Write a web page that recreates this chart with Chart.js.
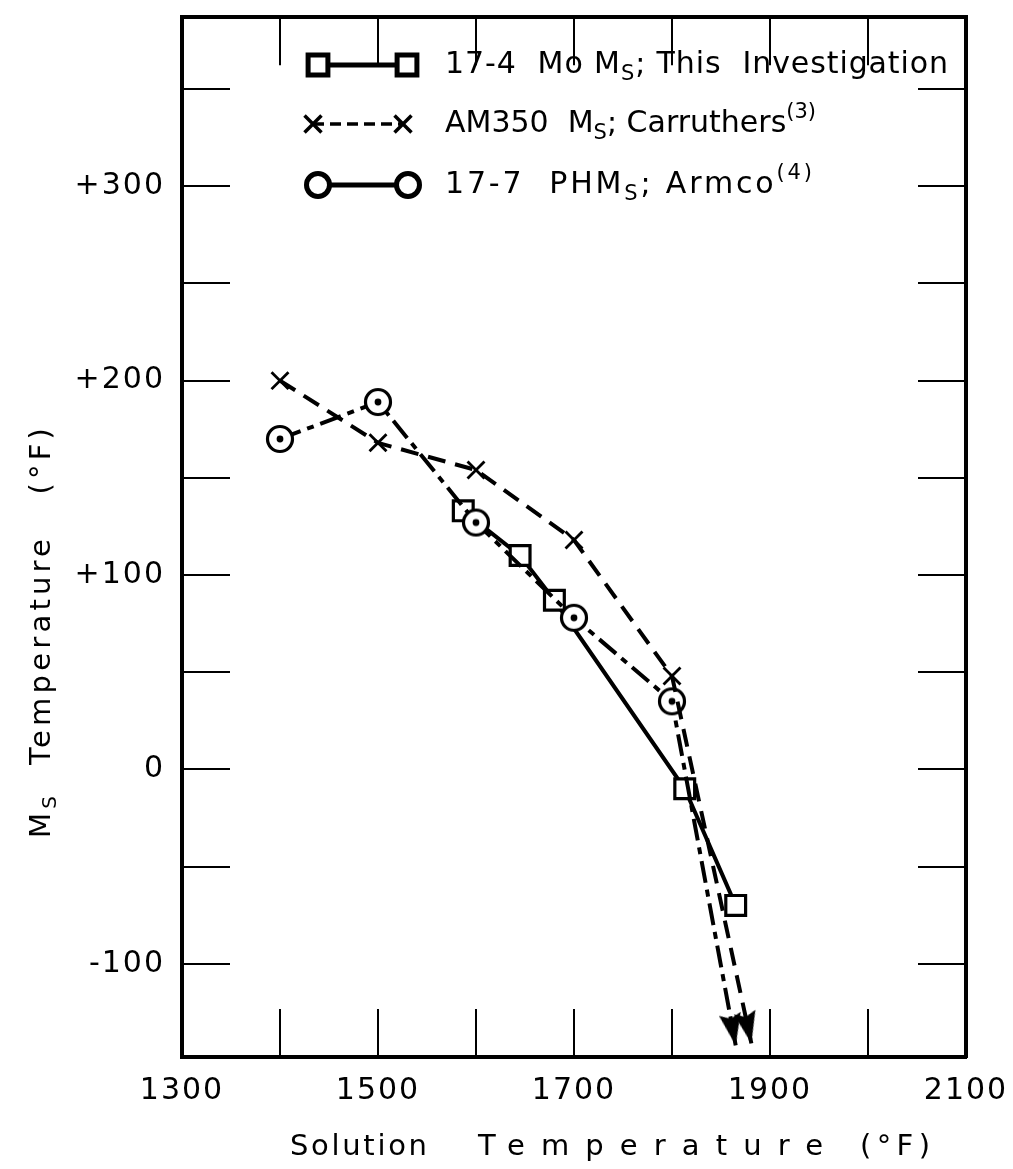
<!DOCTYPE html>
<html>
<head>
<meta charset="utf-8">
<script src="https://cdn.jsdelivr.net/npm/chart.js@4.4.1/dist/chart.umd.min.js"></script>
<style>
  html, body { margin: 0; padding: 0; background: #fff; }
  #wrap { width: 1013px; height: 1169px; position: relative; }
</style>
</head>
<body>
<div id="wrap"><canvas id="ms-chart"></canvas></div>
<script>
// Ms temperature vs solution temperature, both in deg F
const mo174_x = [1587, 1645, 1680, 1813, 1865];
const mo174_y = [133, 110, 87, -10, -70];
// last point of the two reference curves is the arrow tip
const am350_x = [1400, 1500, 1600, 1700, 1800, 1881];
const am350_y = [200, 168, 154, 118, 48, -141];
const ph177_x = [1400, 1500, 1600, 1700, 1800, 1865];
const ph177_y = [170, 189, 127, 78, 35, -142];

const x_ticks = [1300, 1400, 1500, 1600, 1700, 1800, 1900, 2000, 2100];
const x_labels = [1300, 1500, 1700, 1900, 2100];
const y_ticks = [-100, -50, 0, 50, 100, 150, 200, 250, 300, 350];
const y_labels = [-100, 0, 100, 200, 300];

// text pieces: 0 normal, 1 subscript, 2 superscript
const legend_labels = [
    [['17-4  Mo M', 0], ['S', 1], ['; This  Investigation', 0]],
    [['AM350  M', 0], ['S', 1], ['; Carruthers', 0], ['(3)', 2]],
    [['17-7  PHM', 0], ['S', 1], ['; Armco', 0], ['(4)', 2]]
];
const x_title = ['Solution', 'Temperature', '(°F)'];
const y_title = [['M', 0], ['S', 1], ['  Temperature', 0], ['   (°F)', 0]];

const FONT = '"DejaVu Sans", sans-serif';

function toPoints(xs, ys) {
    return xs.map((v, i) => ({ x: v, y: ys[i] }));
}

// circle marker with a dot in the middle
const ringImg = document.createElement('canvas');
ringImg.width = 32; ringImg.height = 32;
(function () {
    const c = ringImg.getContext('2d');
    c.beginPath();
    c.arc(16, 16, 12.5, 0, Math.PI * 2);
    c.fillStyle = '#fff';
    c.fill();
    c.lineWidth = 3.2;
    c.strokeStyle = '#000';
    c.stroke();
    c.beginPath();
    c.arc(16, 16, 3.4, 0, Math.PI * 2);
    c.fillStyle = '#000';
    c.fill();
})();

// arrow head, tip at the centre of the canvas, pointing up
const arrowImg = document.createElement('canvas');
arrowImg.width = 70; arrowImg.height = 70;
(function () {
    const c = arrowImg.getContext('2d');
    c.beginPath();
    c.moveTo(35, 35);
    c.lineTo(24, 67);
    c.lineTo(35, 62);
    c.lineTo(46, 67);
    c.closePath();
    c.fillStyle = '#000';
    c.fill();
})();

function arrowRotation(ctx) {
    const ds = ctx.dataset, i = ctx.dataIndex;
    if (i !== ds.data.length - 1) return 0;
    const sx = ctx.chart.scales.x, sy = ctx.chart.scales.y;
    const a = ds.data[i - 1], b = ds.data[i];
    const dx = sx.getPixelForValue(b.x) - sx.getPixelForValue(a.x);
    const dy = sy.getPixelForValue(b.y) - sy.getPixelForValue(a.y);
    return Math.atan2(dy, dx) * 180 / Math.PI + 90;
}

function fontFor(kind, size) {
    return (kind ? Math.round(size * 0.7) : size) + 'px ' + FONT;
}

// draws text pieces starting at x, stretched with letter spacing to the given width
function drawParts(ctx, parts, x, y, width, size) {
    ctx.letterSpacing = '0px';
    let natural = 0, chars = 0;
    parts.forEach(([t, k]) => {
        ctx.font = fontFor(k, size);
        natural += ctx.measureText(t).width;
        chars += t.length;
    });
    const sp = width ? Math.max(0, (width - natural) / (chars - 1)) : 0;
    ctx.letterSpacing = sp.toFixed(2) + 'px';
    ctx.textAlign = 'left';
    ctx.textBaseline = 'middle';
    ctx.fillStyle = '#000';
    let cx = x;
    parts.forEach(([t, k]) => {
        ctx.font = fontFor(k, size);
        const dy = k === 1 ? size * 0.32 : (k === 2 ? -size * 0.38 : 0);
        ctx.fillText(t, cx, y + dy);
        cx += ctx.measureText(t).width;
    });
    ctx.letterSpacing = '0px';
}

const legendMarkers = [
    { style: 'rect', radius: 14, x1: 318, x2: 407, y: 65, dash: [], lw: 5, textEnd: 948 },
    { style: 'crossRot', radius: 12, x1: 313, x2: 403, y: 124, dash: [11, 6], lw: 3.5, textEnd: 785 },
    { style: 'circle', radius: 11.5, x1: 318, x2: 408, y: 185, dash: [], lw: 5, textEnd: 812 }
];

const textPlugin = {
    id: 'textPlugin',
    beforeDraw(chart) {
        chart.ctx.letterSpacing = '2px';
    },
    afterDraw(chart) {
        const ctx = chart.ctx;
        ctx.save();

        // legend
        legendMarkers.forEach((m, i) => {
            ctx.beginPath();
            ctx.setLineDash(m.dash);
            ctx.lineWidth = m.lw;
            ctx.strokeStyle = '#000';
            ctx.moveTo(m.x1, m.y);
            ctx.lineTo(m.x2, m.y);
            ctx.stroke();
            ctx.setLineDash([]);
            ctx.fillStyle = '#fff';
            ctx.strokeStyle = '#000';
            [m.x1, m.x2].forEach(px => {
                Chart.helpers.drawPoint(ctx, {
                    pointStyle: m.style, radius: m.radius, borderWidth: 3, rotation: 0
                }, px, m.y);
            });
            drawParts(ctx, legend_labels[i], 445, m.y, m.textEnd - 445, 30);
        });

        // x axis title
        drawParts(ctx, [[x_title[0], 0]], 290, 1147, 137, 29);
        drawParts(ctx, [[x_title[1], 0]], 478, 1147, 345, 29);
        drawParts(ctx, [[x_title[2], 0]], 860, 1147, 70, 29);

        // y axis title, read from bottom to top
        ctx.save();
        ctx.translate(42, 838);
        ctx.rotate(-Math.PI / 2);
        drawParts(ctx, y_title, 0, 0, 410, 29);
        ctx.restore();

        ctx.restore();
    }
};

const tickGrid = {
    drawOnChartArea: false,
    drawTicks: true,
    tickLength: -48,
    lineWidth: 2,
    color: '#000'
};
const frame = { display: true, width: 4, color: '#000' };

function noPad(s) {
    s.paddingTop = 0; s.paddingBottom = 0; s.paddingLeft = 0; s.paddingRight = 0;
}

new Chart(document.getElementById('ms-chart'), {
    type: 'line',
    data: {
        datasets: [
            {
                label: 'AM350 Ms; Carruthers',
                data: toPoints(am350_x, am350_y),
                borderColor: '#000',
                borderWidth: 4,
                borderDash: [18, 10],
                pointStyle: am350_x.map((v, i) => i === am350_x.length - 1 ? arrowImg : 'crossRot'),
                pointRadius: 12,
                pointBorderWidth: 2.8,
                pointBorderColor: '#000',
                pointBackgroundColor: '#000',
                pointRotation: arrowRotation,
                tension: 0,
                clip: false
            },
            {
                label: '17-7 PHMs; Armco',
                data: toPoints(ph177_x, ph177_y),
                borderColor: '#000',
                borderWidth: 4,
                borderDash: [22, 7, 7, 7],
                pointStyle: ph177_x.map((v, i) => i === ph177_x.length - 1 ? arrowImg : ringImg),
                pointRadius: 13,
                pointRotation: arrowRotation,
                tension: 0,
                clip: false
            },
            {
                label: '17-4 Mo Ms; This Investigation',
                data: toPoints(mo174_x, mo174_y),
                borderColor: '#000',
                borderWidth: 4,
                pointStyle: 'rect',
                pointRadius: 14,
                pointBorderWidth: 3.2,
                pointBorderColor: '#000',
                pointBackgroundColor: '#fff',
                tension: 0,
                clip: false
            }
        ]
    },
    options: {
        responsive: true,
        maintainAspectRatio: false,
        devicePixelRatio: 1,
        animation: false,
        events: [],
        layout: { padding: 0 },
        plugins: {
            legend: { display: false },
            tooltip: { enabled: false }
        },
        scales: {
            x: {
                type: 'linear',
                position: 'bottom',
                min: 1300,
                max: 2100,
                afterBuildTicks: s => { s.ticks = x_ticks.map(v => ({ value: v })); },
                afterFit: s => { s.height = 112; noPad(s); },
                grid: tickGrid,
                border: frame,
                ticks: {
                    padding: 64,
                    color: '#000',
                    maxRotation: 0,
                    autoSkip: false,
                    font: { family: FONT, size: 30 },
                    callback: v => x_labels.includes(v) ? String(v) : ''
                }
            },
            x2: {
                type: 'linear',
                position: 'top',
                min: 1300,
                max: 2100,
                afterBuildTicks: s => { s.ticks = x_ticks.map(v => ({ value: v })); },
                afterFit: s => { s.height = 10; noPad(s); },
                grid: tickGrid,
                border: frame,
                ticks: { display: false }
            },
            y: {
                type: 'linear',
                position: 'left',
                min: -148,
                max: 387,
                afterBuildTicks: s => { s.ticks = y_ticks.map(v => ({ value: v })); },
                afterFit: s => { s.width = 182; noPad(s); },
                grid: tickGrid,
                border: frame,
                ticks: {
                    padding: 65,
                    color: '#000',
                    autoSkip: false,
                    font: { family: FONT, size: 30 },
                    callback: v => y_labels.includes(v) ? (v > 0 ? '+' + v : String(v)) : ''
                }
            },
            y2: {
                type: 'linear',
                position: 'right',
                min: -148,
                max: 387,
                afterBuildTicks: s => { s.ticks = y_ticks.map(v => ({ value: v })); },
                afterFit: s => { s.width = 47; noPad(s); },
                grid: tickGrid,
                border: frame,
                ticks: { display: false }
            }
        }
    },
    plugins: [textPlugin]
});
</script>
</body>
</html>
